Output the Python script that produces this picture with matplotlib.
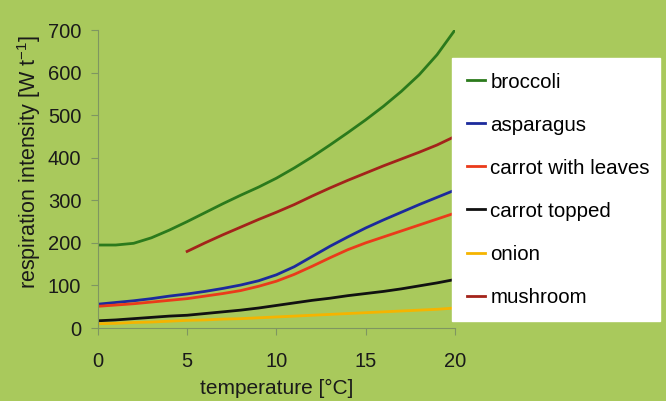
import matplotlib
matplotlib.use("Agg")
import matplotlib.pyplot as plt

plt.rcParams["font.family"] = ["Liberation Sans", "DejaVu Sans"]
plt.rcParams["mathtext.fontset"] = "custom"
plt.rcParams["mathtext.rm"] = "Liberation Sans"
plt.rcParams["mathtext.it"] = "Liberation Sans"

# values, one per degree
temp = list(range(0, 21))
temp_mush = list(range(5, 21))

broccoli = [195, 195, 199, 212, 230, 250, 271, 292, 312, 331, 352,
            376, 402, 430, 459, 489, 521, 556, 595, 642, 700]
asparagus = [56, 60, 64, 69, 75, 80, 86, 93, 101, 111, 125,
             144, 168, 192, 214, 235, 254, 272, 290, 307, 324]
carrot_leaves = [51, 54, 57, 61, 65, 69, 75, 81, 88, 98, 110,
                 126, 145, 165, 184, 200, 214, 228, 242, 256, 270]
carrot_topped = [17, 19, 22, 25, 28, 30, 34, 38, 42, 47, 53,
                 59, 65, 70, 76, 81, 86, 92, 99, 106, 114]
onion = [10, 11, 13, 14, 16, 18, 19, 21, 22, 24, 26,
         28, 30, 32, 34, 36, 38, 40, 42, 44, 47]
mushroom = [180, 200, 219, 237, 255, 272, 290, 310, 329, 347,
            364, 381, 397, 413, 430, 450]

BG = "#a9c95c"
AXC = "#7f9660"
TXT = "#1a1a1a"

fig = plt.figure(figsize=(6.66, 4.01), dpi=100, facecolor=BG)
ax = fig.add_axes([0.147, 0.182, 0.536, 0.743])
ax.set_facecolor(BG)

lw = 2.0
ax.plot(temp, broccoli, color="#2b7a1c", lw=lw, label="broccoli")
ax.plot(temp, asparagus, color="#1c2a9c", lw=lw, label="asparagus")
ax.plot(temp, carrot_leaves, color="#ea3a1a", lw=lw, label="carrot with leaves")
ax.plot(temp, carrot_topped, color="#111111", lw=lw, label="carrot topped")
ax.plot(temp, onion, color="#f5b400", lw=lw, label="onion")
ax.plot(temp_mush, mushroom, color="#a3231a", lw=lw, label="mushroom")

ax.set_xlim(0, 20)
ax.set_ylim(0, 700)
ax.set_xticks([0, 5, 10, 15, 20])
ax.set_yticks(range(0, 701, 100))
for s in ("top", "right"):
    ax.spines[s].set_visible(False)
for s in ("left", "bottom"):
    ax.spines[s].set_color(AXC)
    ax.spines[s].set_linewidth(0.8)
ax.tick_params(axis="both", colors=AXC, labelcolor=TXT, labelsize=14.5,
               length=5, width=0.8)
ax.tick_params(axis="y", pad=7)
ax.tick_params(axis="x", pad=12)

ax.set_xlabel("temperature [°C]", fontsize=15, color=TXT, labelpad=6)
ax.set_ylabel("respiration intensity [W t$^{-1}$]", fontsize=15.5, color=TXT)
ax.yaxis.set_label_coords(-0.155, 0.557)

leg = fig.legend(loc="upper left", bbox_to_anchor=(0.679, 0.855, 0.312, 0.0),
                 mode="expand", fontsize=14.8, frameon=True, fancybox=False,
                 handlelength=0.9, handletextpad=0.25, labelspacing=1.17,
                 borderpad=0.7, borderaxespad=0.0)
leg.get_frame().set_facecolor("white")
leg.get_frame().set_edgecolor("white")
leg.get_frame().set_alpha(1.0)

fig.savefig("out.png", dpi=100, facecolor=BG)
